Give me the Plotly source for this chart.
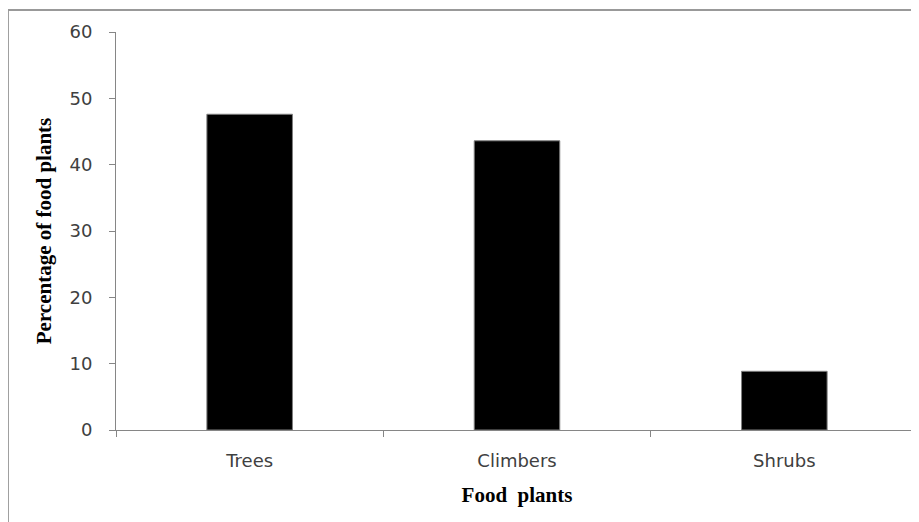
import plotly.graph_objects as go

categories = ["Trees", "Climbers", "Shrubs"]
percentages = [47.6, 43.6, 8.85]
y_ticks = [0, 10, 20, 30, 40, 50, 60]

axis_grey = "#868686"
label_grey = "#404040"

fig = go.Figure()
fig.add_trace(go.Bar(
    x=categories, y=percentages,
    marker=dict(color="black", line=dict(color="#7f7f7f", width=1)),
    showlegend=False,
))

# light grey frame round the chart (only top and left edges visible)
fig.add_shape(type="rect", xref="paper", yref="paper",
              x0=-107 / 794, x1=1.2, y0=-0.5, y1=1 + 22 / 398,
              line=dict(color="#999999", width=2), fillcolor="rgba(0,0,0,0)", layer="below")

# page body adds 8px, so the figure is sized to fit the window after that offset
fig.update_layout(
    width=911, height=514,
    margin=dict(l=108, r=1, t=24, b=92, autoexpand=False),
    paper_bgcolor="white", plot_bgcolor="white",
    bargap=0.68,
    font=dict(family="DejaVu Sans, sans-serif", size=18, color=label_grey),
    xaxis=dict(
        showline=True, linecolor=axis_grey, linewidth=1,
        ticks="outside", tickson="boundaries", ticklen=6, tickcolor=axis_grey,
        ticklabelstandoff=14, automargin=False,
        title=dict(text="Food  plants", standoff=17,
                   font=dict(family="Liberation Serif", size=21, color="black", weight="bold")),
        showgrid=False,
    ),
    yaxis=dict(
        range=[0, 60], tickvals=y_ticks,
        showline=True, linecolor=axis_grey, linewidth=1,
        ticks="outside", ticklen=6, tickcolor=axis_grey,
        ticklabelstandoff=13, automargin=False,
        title=dict(text="Percentage of food plants", standoff=12,
                   font=dict(family="Liberation Serif", size=21, color="black", weight="bold")),
        showgrid=False, zeroline=False,
    ),
)

fig.write_html("out.html")
